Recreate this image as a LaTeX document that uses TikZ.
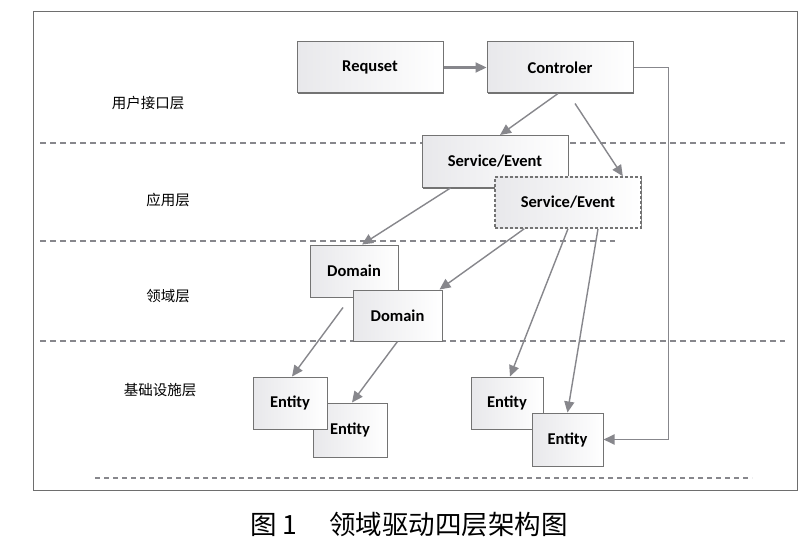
\documentclass[tikz,border=0pt]{standalone}
\usepackage{fontspec}
\setsansfont{Carlito}
\newfontfamily\cjk{Noto Sans CJK SC}
\usepackage{tikz}
\usetikzlibrary{arrows.meta,shadows}
\definecolor{frame}{RGB}{110,110,110}
\definecolor{link}{RGB}{135,135,140}
\definecolor{boxline}{RGB}{115,115,115}
\definecolor{boxfill}{RGB}{232,232,235}

\tikzset{
  layerbox/.style = {draw=boxline, line width=1pt, left color=boxfill, right color=white,
    inner sep=0pt, align=center, font=\sffamily\bfseries\fontsize{16.5}{19}\selectfont,
    drop shadow={shadow xshift=0.8pt, shadow yshift=-1.4pt, fill=boxline, opacity=1}},
  ghostbox/.style = {layerbox, dash pattern=on 3pt off 2pt, line width=1.6pt},
  layername/.style = {font=\cjk\fontsize{14.5}{17}\selectfont},
  flow/.style = {draw=link, line width=1.4pt, -{Triangle[width=10pt,length=11pt]}},
  divider/.style = {draw=link, line width=1.1pt, dash pattern=on 6pt off 4pt}
}

\begin{document}
\begin{tikzpicture}[x=1pt,y=-1pt]
            \useasboundingbox (0,0) rectangle (800,556);
            \fill[white] (0,0) rectangle (800,556);
            \draw[frame, line width=1pt] (33,12) rectangle (797,490);

            % layer dividers
            \draw[divider] (40,143) -- (785,143);
            \draw[divider] (40,241) -- (615,241);
            \draw[divider] (40,341) -- (785,341);
            \draw[divider, line width=2.2pt, dash pattern=on 5pt off 4pt] (95,478) -- (752,478);

            % layer names
            \node[layername] (ui) at (148,103) {用户接口层};
            \node[layername] (app) at (168,200) {应用层};
            \node[layername] (dom) at (168,296) {领域层};
            \node[layername] (infra) at (160,390) {基础设施层};

            % boxes
            \node[layerbox, minimum width=146pt, minimum height=51pt] (req) at (370,67.5) {Requset};
            \node[layerbox, minimum width=146pt, minimum height=51pt] (ctrl) at (560,67.5) {Controler};
            \node[layerbox, minimum width=146pt, minimum height=52pt] (svcA) at (495,161.5) {Service/Event};
            \node[ghostbox, minimum width=146pt, minimum height=51pt] (svcB) at (568,202.5) {Service/Event};
            \node[layerbox, minimum width=88pt, minimum height=52pt] (domA) at (354,271) {Domain};
            \node[layerbox, minimum width=89pt, minimum height=51pt] (domB) at (397.5,315.5) {Domain};
            \node[layerbox, minimum width=74pt, minimum height=54pt] (entB) at (350,430) {Entity};
            \node[layerbox, minimum width=74pt, minimum height=52pt] (entA) at (290,403) {Entity};
            \node[layerbox, minimum width=72pt, minimum height=52pt] (entC) at (507,403) {Entity};
            \node[layerbox, minimum width=71pt, minimum height=53pt] (entD) at (567.5,439.5) {Entity};

            % connectors
            \draw[flow, line width=2.2pt] (req.east) -- (ctrl.west);
            \draw[flow] ([xshift=-2pt]ctrl.south) -- ([xshift=5pt]svcA.north);
            \draw[flow] ([xshift=15pt,yshift=-10pt]ctrl.south) -- ([xshift=-19pt]svcB.north east);
            \draw[flow] ([xshift=29pt]svcA.south west) -- ([xshift=8pt]domA.north);
            \draw[flow] ([xshift=30pt]svcB.south west) -- ([xshift=-3pt]domB.north east);
            \draw[flow] (svcB.south) -- ([xshift=3pt]entC.north);
            \draw[flow] ([xshift=30pt]svcB.south) -- (entD.north);
            \draw[flow] ([xshift=-11pt,yshift=-10pt]domA.south) -- ([xshift=2pt]entA.north);
            \draw[flow] (domB.south) -- ([xshift=2pt]entB.north);
            \draw[flow, line width=1.8pt] (ctrl.east) -- ++(35,0) |- (entD.east);

            % caption
            \node[font=\cjk\fontsize{26.5}{31}\selectfont] (cap) at (409,525) {图 1\hspace{1.2em}领域驱动四层架构图};
        \end{tikzpicture}
\end{document}
